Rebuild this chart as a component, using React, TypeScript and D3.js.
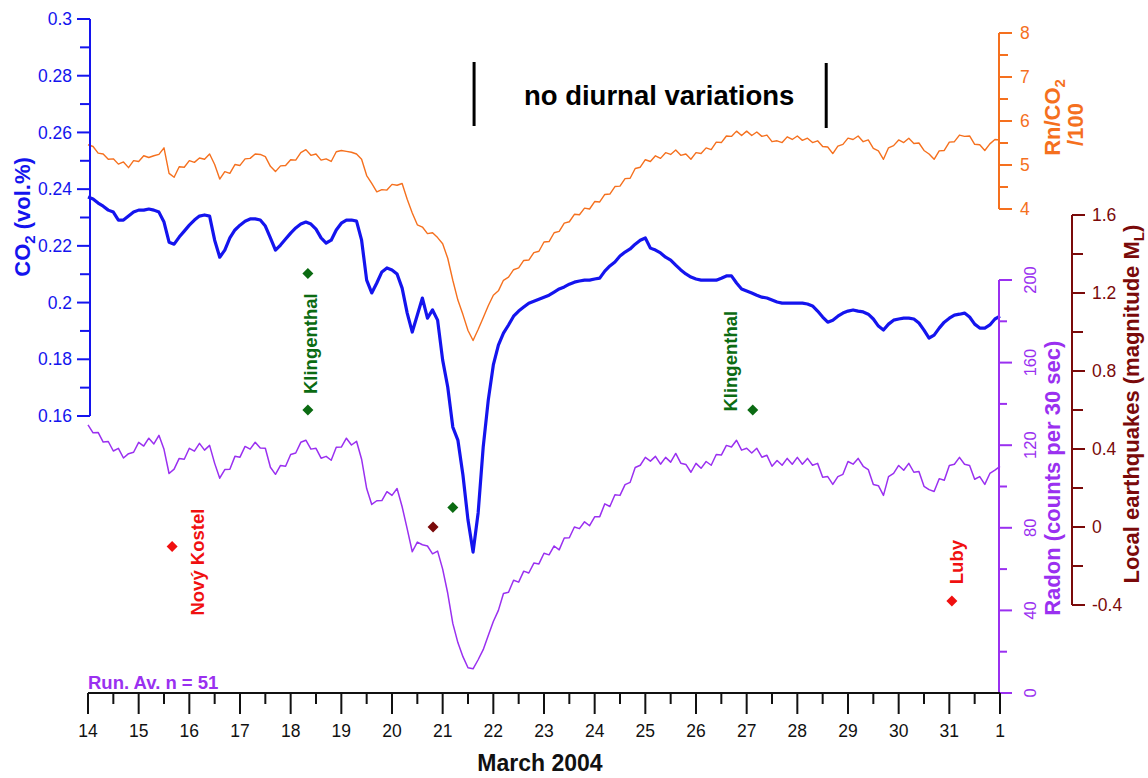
import React from "react";
import * as d3 from "d3";

// ---- data (March 2004, 0.1-day sampling starting on day 14) ----
const START_DAY = 14;
const STEP_DAY = 0.1;

const co2 = [
  0.2372, 0.2365, 0.2351, 0.234, 0.2326, 0.2319, 0.2291, 0.2291, 0.2305, 0.2319,
  0.2326, 0.2326, 0.233, 0.2326, 0.2319, 0.2284, 0.2213, 0.2206, 0.2231, 0.2252,
  0.2273, 0.2291, 0.2305, 0.2309, 0.2305, 0.222, 0.216, 0.2185, 0.2228, 0.2256,
  0.2273, 0.2287, 0.2295, 0.2295, 0.2291, 0.227, 0.2228, 0.2185, 0.2203, 0.2224,
  0.2245, 0.2263, 0.2277, 0.2284, 0.2277, 0.2259, 0.2228, 0.221, 0.222, 0.2256,
  0.228, 0.2291, 0.2291, 0.2287, 0.222, 0.2079, 0.2034, 0.2069, 0.2108, 0.2122,
  0.2115, 0.2101, 0.2051, 0.1963, 0.1896, 0.1956, 0.2016, 0.1945, 0.1974, 0.1938,
  0.1797, 0.1702, 0.1561, 0.1515, 0.1392, 0.1233, 0.112, 0.1258, 0.149, 0.1656,
  0.178, 0.185, 0.1892, 0.1921, 0.1952, 0.197, 0.1984, 0.1998, 0.2005, 0.2012,
  0.2019, 0.2026, 0.2037, 0.2048, 0.2055, 0.2065, 0.2072, 0.2076, 0.2079, 0.2079,
  0.2083, 0.2086, 0.2111, 0.2129, 0.2143, 0.2164, 0.2178, 0.2189, 0.2206, 0.222,
  0.2228, 0.2192, 0.2185, 0.2175, 0.216, 0.215, 0.2132, 0.2115, 0.2101, 0.209,
  0.2083, 0.2079, 0.2079, 0.2079, 0.2079, 0.2086, 0.2094, 0.2094, 0.2069, 0.2048,
  0.2041, 0.2034, 0.2026, 0.2019, 0.2016, 0.2009, 0.2002, 0.1998, 0.1998, 0.1998,
  0.1998, 0.1998, 0.1995, 0.1988, 0.197, 0.1949, 0.1931, 0.1938, 0.1952, 0.1963,
  0.197, 0.1974, 0.197, 0.1967, 0.1959, 0.1942, 0.1917, 0.1903, 0.1924, 0.1938,
  0.1942, 0.1945, 0.1945, 0.1942, 0.1928, 0.1903, 0.1875, 0.1885, 0.191, 0.1931,
  0.1945, 0.1956, 0.1959, 0.1963, 0.1949, 0.1924, 0.191, 0.191, 0.1921, 0.1942,
  0.1952,
];

const rnCo2 = [
  5.46, 5.42, 5.27, 5.25, 5.13, 5.14, 5.02, 5.07, 4.94, 5.1,
  5.08, 5.21, 5.17, 5.21, 5.24, 5.39, 4.81, 4.72, 4.96, 4.95,
  5.1, 5.06, 5.16, 5.13, 5.25, 5.01, 4.68, 4.85, 4.81, 5.01,
  4.99, 5.14, 5.15, 5.25, 5.24, 5.19, 4.97, 4.85, 4.98, 4.99,
  5.12, 5.11, 5.28, 5.35, 5.22, 5.25, 5.11, 5.14, 5.08, 5.3,
  5.33, 5.31, 5.29, 5.25, 5.13, 4.76, 4.58, 4.39, 4.44, 4.43,
  4.56, 4.54, 4.58, 4.22, 3.91, 3.64, 3.59, 3.44, 3.46, 3.35,
  3.21, 2.88, 2.38, 1.93, 1.6, 1.24, 1.01, 1.26, 1.53, 1.8,
  2.04, 2.14, 2.38, 2.45, 2.62, 2.66, 2.83, 2.84, 3.01, 3.04,
  3.25, 3.26, 3.46, 3.49, 3.68, 3.71, 3.88, 3.87, 4.02, 4.0,
  4.17, 4.16, 4.33, 4.34, 4.51, 4.52, 4.69, 4.7, 4.92, 4.95,
  5.12, 5.08, 5.21, 5.15, 5.28, 5.24, 5.34, 5.22, 5.25, 5.13,
  5.28, 5.26, 5.39, 5.35, 5.52, 5.51, 5.66, 5.65, 5.77, 5.67,
  5.77, 5.67, 5.75, 5.65, 5.68, 5.53, 5.55, 5.51, 5.64, 5.58,
  5.66, 5.56, 5.61, 5.51, 5.55, 5.42, 5.41, 5.26, 5.43, 5.47,
  5.61, 5.58, 5.66, 5.53, 5.57, 5.38, 5.32, 5.13, 5.39, 5.44,
  5.57, 5.51, 5.61, 5.49, 5.5, 5.33, 5.25, 5.13, 5.32, 5.33,
  5.52, 5.53, 5.68, 5.65, 5.66, 5.47, 5.46, 5.33, 5.48, 5.58,
  5.57,
];

const radon = [
  129.8, 126.0, 126.2, 121.5, 121.8, 117.2, 118.5, 113.8, 115.9, 116.6,
  121.4, 119.6, 123.4, 120.6, 124.8, 118.0, 106.3, 108.4, 113.6, 113.2,
  118.5, 117.1, 120.9, 117.6, 119.9, 111.2, 104.0, 108.2, 108.4, 114.6,
  114.2, 119.4, 118.1, 121.4, 118.6, 118.5, 109.3, 105.9, 110.2, 109.8,
  115.5, 116.2, 121.4, 122.4, 118.1, 118.5, 113.7, 114.6, 112.7, 119.0,
  119.1, 123.4, 120.1, 121.9, 113.2, 99.0, 91.3, 93.1, 93.2, 97.5,
  95.7, 99.0, 90.2, 79.5, 68.4, 73.1, 71.8, 71.2, 67.4, 68.7,
  60.0, 48.3, 33.7, 24.4, 17.6, 12.2, 11.7, 16.1, 21.0, 27.8,
  34.6, 40.0, 48.2, 48.8, 54.6, 53.7, 59.0, 58.1, 62.9, 62.5,
  67.7, 66.9, 71.2, 69.3, 75.1, 75.2, 80.4, 79.6, 82.9, 81.0,
  85.3, 85.4, 91.6, 90.3, 96.0, 95.7, 100.9, 102.0, 109.2, 110.3,
  114.1, 112.3, 114.6, 110.8, 114.1, 111.8, 116.0, 111.3, 110.7, 106.9,
  111.2, 108.8, 112.1, 110.3, 115.5, 115.2, 119.9, 119.1, 122.4, 117.6,
  118.5, 116.2, 118.5, 114.2, 115.1, 109.8, 112.6, 110.3, 113.6, 110.8,
  114.1, 110.8, 113.6, 110.3, 111.2, 104.5, 104.8, 101.0, 104.8, 105.9,
  112.1, 110.8, 113.6, 109.8, 108.2, 101.0, 100.4, 95.7, 104.8, 106.4,
  110.2, 107.9, 111.2, 106.9, 107.3, 100.1, 98.5, 97.6, 103.8, 103.0,
  110.2, 110.8, 114.1, 110.8, 110.2, 103.5, 104.8, 101.0, 106.3, 107.9,
  109.7,
];

// x axis: days 14..31 of March, then 1 (April)
const dayTicks = [14, 15, 16, 17, 18, 19, 20, 21, 22, 23, 24, 25, 26, 27, 28, 29, 30, 31, 32];
const dayTickLabels = ["14", "15", "16", "17", "18", "19", "20", "21", "22", "23", "24", "25", "26", "27", "28", "29", "30", "31", "1"];

const co2Ticks = [0.16, 0.18, 0.2, 0.22, 0.24, 0.26, 0.28, 0.3];
const co2TickLabels = ["0.16", "0.18", "0.2", "0.22", "0.24", "0.26", "0.28", "0.3"];
const rnTicks = [4, 5, 6, 7, 8];
const radonTicks = [0, 40, 80, 120, 160, 200];
const quakeTicks = [-0.4, 0, 0.4, 0.8, 1.2, 1.6];
const quakeTickLabels = ["-0.4", "0", "0.4", "0.8", "1.2", "1.6"];

// earthquakes (day, local magnitude)
const quakeDays = [15.66, 18.34, 18.34, 20.81, 21.2, 27.12, 31.05];
const quakeMags = [-0.1, 1.3, 0.6, 0.0, 0.1, 0.6, -0.38];
const quakeColors = ["#f01010", "#0b6b12", "#0b6b12", "#7a0a0a", "#0b6b12", "#0b6b12", "#f01010"];

const quakeLabels = ["Nový Kostel", "Klingenthal", "Klingenthal", "Luby"];
const quakeLabelDays = [16.17, 18.4, 26.69, 31.15];
const quakeLabelMags = [-0.18, 0.94, 0.85, -0.18];
const quakeLabelColors = ["#f01010", "#0b6b12", "#0b6b12", "#f01010"];

const noDiurnalStart = 21.62;
const noDiurnalEnd = 28.57;

const FONT = "'Liberation Sans', Arial, Helvetica, sans-serif";
const BLUE = "#1414ee";
const ORANGE = "#f5701e";
const PURPLE = "#9a30f0";
const DARKRED = "#7a0a0a";
const TICK_FS = 17.5;
const TITLE_FS = 22;

export default function App() {
  const x = d3.scaleLinear().domain([14, 32]).range([88, 1000]);
  const yCo2 = d3.scaleLinear().domain([0.16, 0.3]).range([416, 19]);
  const yRn = d3.scaleLinear().domain([4, 8]).range([209, 33]);
  const yRadon = d3.scaleLinear().domain([0, 200]).range([693, 280]);
  const yQ = d3.scaleLinear().domain([-0.4, 1.6]).range([605, 215]);

  const dayOf = (i: number) => START_DAY + i * STEP_DAY;
  const mk = (ys: d3.ScaleLinear<number, number>) =>
    d3
      .line<number>()
      .x((_, i) => x(dayOf(i)))
      .y((v) => ys(v));

  const axisBottomY = yRadon(0);
  const co2AxisX = 90;
  const rightAxisX = x(32) - 1;
  const quakeAxisX = 1072;

  const halfTicks = (arr: number[]) => arr.slice(0, -1).map((v, i) => (v + arr[i + 1]) / 2);

  const diamond = (cx: number, cy: number, r: number) =>
    `M${cx},${cy - r}L${cx + r},${cy}L${cx},${cy + r}L${cx - r},${cy}Z`;

  return (
    <svg
      width={1148}
      height={778}
      viewBox="0 0 1148 778"
      style={{ position: "absolute", left: 0, top: 0, background: "#fff" }}
      fontFamily={FONT}
    >
      <rect x={0} y={0} width={1148} height={778} fill="#fff" />

      {/* series */}
      <path d={mk(yRn)(rnCo2) || ""} fill="none" stroke={ORANGE} strokeWidth={1.4} strokeLinejoin="round" />
      <path d={mk(yCo2)(co2) || ""} fill="none" stroke={BLUE} strokeWidth={3.2} strokeLinejoin="round" />
      <path d={mk(yRadon)(radon) || ""} fill="none" stroke={PURPLE} strokeWidth={1.5} strokeLinejoin="round" />

      {/* CO2 axis (left) */}
      <g>
        <line x1={co2AxisX} x2={co2AxisX} y1={yCo2(0.3)} y2={yCo2(0.16)} stroke={BLUE} strokeWidth={2} />
        {co2Ticks.map((t, i) => (
          <g key={"c" + t}>
            <line x1={co2AxisX - 13} x2={co2AxisX} y1={yCo2(t)} y2={yCo2(t)} stroke={BLUE} strokeWidth={2} />
            <text x={co2AxisX - 18} y={yCo2(t)} dy="0.35em" textAnchor="end" fontSize={TICK_FS} fill={BLUE}>
              {co2TickLabels[i]}
            </text>
          </g>
        ))}
        {halfTicks(co2Ticks).map((t) => (
          <line key={"cm" + t} x1={co2AxisX - 10} x2={co2AxisX} y1={yCo2(t)} y2={yCo2(t)} stroke={BLUE} strokeWidth={2} />
        ))}
        <text
          transform={`translate(22,${yCo2(0.2302)}) rotate(-90)`}
          dy="0.35em"
          textAnchor="middle"
          fontSize={TITLE_FS}
          fontWeight="bold"
          fill={BLUE}
        >
          CO<tspan fontSize={15} dy={5}>2</tspan>
          <tspan dy={-5}> (vol.%)</tspan>
        </text>
      </g>

      {/* Rn/CO2 axis (right top) */}
      <g>
        <line x1={rightAxisX} x2={rightAxisX} y1={yRn(8)} y2={yRn(4)} stroke={ORANGE} strokeWidth={2} />
        {rnTicks.map((t) => (
          <g key={"r" + t}>
            <line x1={rightAxisX} x2={rightAxisX + 13} y1={yRn(t)} y2={yRn(t)} stroke={ORANGE} strokeWidth={2} />
            <text x={rightAxisX + 21} y={yRn(t)} dy="0.35em" fontSize={TICK_FS} fill={ORANGE}>
              {t}
            </text>
          </g>
        ))}
        {halfTicks(rnTicks).map((t) => (
          <line key={"rm" + t} x1={rightAxisX} x2={rightAxisX + 9} y1={yRn(t)} y2={yRn(t)} stroke={ORANGE} strokeWidth={2} />
        ))}
        <text
          transform={`translate(1052,${yRn(6.08)}) rotate(-90)`}
          dy="0.35em"
          textAnchor="middle"
          fontSize={TITLE_FS}
          fontWeight="bold"
          fill={ORANGE}
        >
          Rn/CO<tspan fontSize={15} dy={5}>2</tspan>
        </text>
        <text
          transform={`translate(1075,${yRn(5.92)}) rotate(-90)`}
          dy="0.35em"
          textAnchor="middle"
          fontSize={TITLE_FS}
          fontWeight="bold"
          fill={ORANGE}
        >
          /100
        </text>
      </g>

      {/* Radon axis (right bottom) */}
      <g>
        <line x1={rightAxisX} x2={rightAxisX} y1={yRadon(200)} y2={yRadon(0)} stroke={PURPLE} strokeWidth={2} />
        {radonTicks.map((t) => (
          <g key={"n" + t}>
            <line x1={rightAxisX} x2={rightAxisX + 13} y1={yRadon(t)} y2={yRadon(t)} stroke={PURPLE} strokeWidth={2} />
            <text
              transform={`translate(${rightAxisX + 31},${yRadon(t)}) rotate(-90)`}
              dy="0.35em"
              textAnchor="middle"
              fontSize={16.5}
              fill={PURPLE}
            >
              {t}
            </text>
          </g>
        ))}
        {halfTicks(radonTicks).map((t) => (
          <line key={"nm" + t} x1={rightAxisX} x2={rightAxisX + 8} y1={yRadon(t)} y2={yRadon(t)} stroke={PURPLE} strokeWidth={2} />
        ))}
        <text
          transform={`translate(1052,${yRadon(104)}) rotate(-90)`}
          dy="0.35em"
          textAnchor="middle"
          fontSize={TITLE_FS}
          fontWeight="bold"
          fill={PURPLE}
        >
          Radon (counts per 30 sec)
        </text>
      </g>

      {/* Local earthquakes axis */}
      <g>
        <line x1={quakeAxisX} x2={quakeAxisX} y1={yQ(1.6)} y2={yQ(-0.4)} stroke={DARKRED} strokeWidth={2} />
        {quakeTicks.map((t, i) => (
          <g key={"q" + t}>
            <line x1={quakeAxisX} x2={quakeAxisX + 13} y1={yQ(t)} y2={yQ(t)} stroke={DARKRED} strokeWidth={2} />
            <text x={quakeAxisX + 20} y={yQ(t)} dy="0.35em" fontSize={TICK_FS} fill={DARKRED}>
              {quakeTickLabels[i]}
            </text>
          </g>
        ))}
        {halfTicks(quakeTicks).map((t) => (
          <line key={"qm" + t} x1={quakeAxisX} x2={quakeAxisX + 11} y1={yQ(t)} y2={yQ(t)} stroke={DARKRED} strokeWidth={2} />
        ))}
        <text
          transform={`translate(1131,${yQ(0.63)}) rotate(-90)`}
          dy="0.35em"
          textAnchor="middle"
          fontSize={TITLE_FS}
          fontWeight="bold"
          fill={DARKRED}
        >
          Local earthquakes (magnitude M<tspan fontSize={15} dy={5}>L</tspan>
          <tspan dy={-5}>)</tspan>
        </text>
      </g>

      {/* bottom axis */}
      <g>
        <line x1={x(14)} x2={x(32)} y1={axisBottomY} y2={axisBottomY} stroke="#111" strokeWidth={2} />
        {dayTicks.map((t, i) => (
          <g key={"d" + t}>
            <line x1={x(t)} x2={x(t)} y1={axisBottomY} y2={axisBottomY + 21} stroke="#111" strokeWidth={2} />
            <text x={x(t)} y={axisBottomY + 38} dy="0.35em" textAnchor="middle" fontSize={TICK_FS} fill="#111">
              {dayTickLabels[i]}
            </text>
          </g>
        ))}
        {halfTicks(dayTicks).map((t) => (
          <line key={"dm" + t} x1={x(t)} x2={x(t)} y1={axisBottomY} y2={axisBottomY + 11} stroke="#111" strokeWidth={2} />
        ))}
        <text x={540} y={771} textAnchor="middle" fontSize={23} fontWeight="bold" fill="#111">
          March 2004
        </text>
      </g>

      {/* annotations */}
      <text x={88} y={689} fontSize={18.5} fontWeight="bold" fill={PURPLE}>
        Run. Av. n = 51
      </text>
      <line x1={x(noDiurnalStart)} x2={x(noDiurnalStart)} y1={62} y2={126} stroke="#000" strokeWidth={3} />
      <line x1={x(noDiurnalEnd)} x2={x(noDiurnalEnd)} y1={63} y2={128} stroke="#000" strokeWidth={3} />
      <text x={(x(noDiurnalStart) + x(noDiurnalEnd)) / 2 + 9} y={105} textAnchor="middle" fontSize={27.5} fontWeight="bold" fill="#000">
        no diurnal variations
      </text>

      {/* earthquakes */}
      {quakeDays.map((d, i) => (
        <path key={"e" + i} d={diamond(x(d), yQ(quakeMags[i]), 5.5)} fill={quakeColors[i]} />
      ))}
      {quakeLabels.map((t, i) => (
        <text
          key={"l" + i}
          transform={`translate(${x(quakeLabelDays[i])},${yQ(quakeLabelMags[i])}) rotate(-90)`}
          dy="0.35em"
          textAnchor="middle"
          fontSize={18.5}
          fontWeight="bold"
          fill={quakeLabelColors[i]}
        >
          {t}
        </text>
      ))}
    </svg>
  );
}
